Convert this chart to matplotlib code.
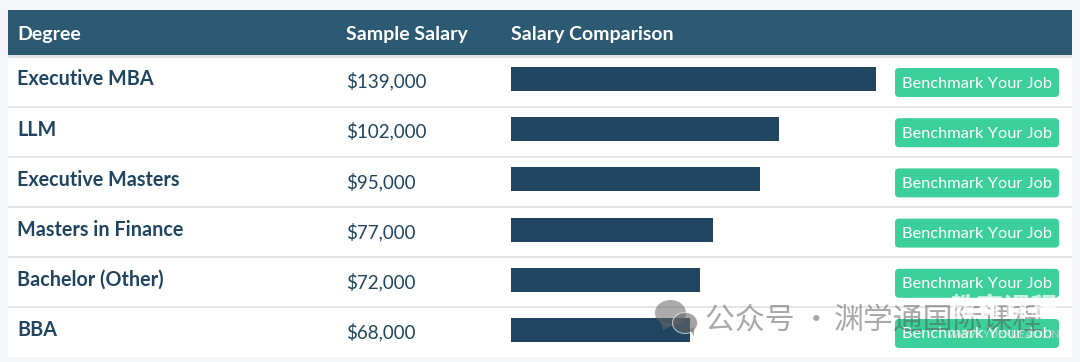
import matplotlib
matplotlib.use('Agg')
import matplotlib.pyplot as plt
from matplotlib.patches import Rectangle, FancyBboxPatch, Ellipse, Polygon

plt.rcParams['font.family'] = ['Lato', 'Noto Sans CJK SC', 'DejaVu Sans']

W, H = 1080, 362

degrees = ['Executive MBA', 'LLM', 'Executive Masters', 'Masters in Finance', 'Bachelor (Other)', 'BBA']
salaries = [139000, 102000, 95000, 77000, 72000, 68000]
headers = ['Degree', 'Sample Salary', 'Salary Comparison']
button_label = 'Benchmark Your Job'

NAVY = '#1f4560'
HEADER = '#2b5a72'
GREEN = '#3bcf9b'
CJK = ['Noto Sans CJK SC', 'DejaVu Sans']

fig = plt.figure(figsize=(W / 100, H / 100), dpi=100, facecolor='#f5f6f9')

# 배경 축: 픽셀 좌표
bg = fig.add_axes([0, 0, 1, 1])
bg.set_xlim(0, W)
bg.set_ylim(H, 0)
bg.axis('off')

bg.add_patch(Rectangle((8, 55), 1064, 302, fc='white', ec='none'))
bg.add_patch(Rectangle((8, 55), 1064, 2.5, fc='#e3e4e6', ec='none'))
bg.add_patch(Rectangle((8, 10), 1064, 45, fc=HEADER, ec='none'))

for x, label in zip([17, 346, 511], headers):
    bg.text(x, 34.5, label, color='white', fontsize=14, fontweight='bold', va='center', ha='left')

row_h = 50.2
for i, (name, sal) in enumerate(zip(degrees, salaries)):
    cy = 79 + i * row_h
    bg.text(17, cy + 0.3, name, color=NAVY, fontsize=14.2, fontweight='bold', va='center', ha='left')
    bg.text(346.5, cy + 2.2, f'${sal:,}', color=NAVY, fontsize=13.5, va='center', ha='left')
    if i < len(degrees) - 1:
        bg.plot([8, 1072], [cy + 27.5, cy + 27.5], color='#dcdddf', lw=1.1, solid_capstyle='butt')
    bg.add_patch(FancyBboxPatch((898, cy - 8), 158, 23, boxstyle='round,pad=3,rounding_size=4',
                                fc=GREEN, ec='none'))
    bg.text(977, cy + 4.5, button_label, color='white', fontsize=11.8, va='center', ha='center')

# 막대: 급여 값 기준
ax = fig.add_axes([511 / W, 1 - 355.1 / H, 365 / W, 301.2 / H])
ax.patch.set_alpha(0)
ax.barh(range(len(salaries)), salaries, height=0.478, color=NAVY)
ax.set_xlim(0, max(salaries))
ax.set_ylim(5.5, -0.5)
ax.axis('off')

# 워터마크
top = fig.add_axes([0, 0, 1, 1])
top.patch.set_alpha(0)
top.set_xlim(0, W)
top.set_ylim(H, 0)
top.axis('off')
top.add_patch(Ellipse((670.5, 313), 31, 26, fc='#666666', alpha=0.55, ec='none'))
top.add_patch(Polygon([[661, 322], [663, 331], [672, 325]], fc='#666666', alpha=0.55, ec='none'))
top.add_patch(Ellipse((685, 323), 25, 21, fc='#666666', alpha=0.6, ec='white', lw=0.8))
top.add_patch(Polygon([[690, 330], [694, 336], [694, 327]], fc='#666666', alpha=0.6, ec='none'))
top.text(705, 320, '公众号 ·', color='#555555', alpha=0.5, fontsize=21.5,
         va='center', ha='left', family=CJK)
top.text(834, 320, '渊学通国际课程', color='#555555', alpha=0.5, fontsize=21.5,
         va='center', ha='left', family=CJK)
top.text(1004, 309, '教育课程', color='white', alpha=0.72, fontsize=19.5, fontweight='bold',
         va='center', ha='center', family=CJK)
top.text(1004, 334, 'WWW.YUEXUEAO.CN', color='#dddddd', alpha=0.7, fontsize=7.8, va='center', ha='center')

fig.savefig('out.png', dpi=100, facecolor=fig.get_facecolor())
